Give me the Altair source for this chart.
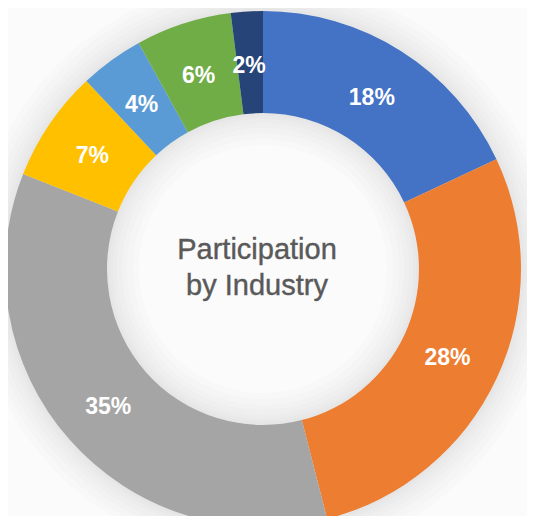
import altair as alt
import pandas as pd

categories = ["A", "B", "C", "D", "E", "F", "G"]
values = [18, 28, 35, 7, 4, 6, 2]
labels = ["18%", "28%", "35%", "7%", "4%", "6%", "2%"]
colors = ["#4472C4", "#ED7D31", "#A5A5A5", "#FFC000", "#5B9BD5", "#70AD47", "#264478"]
title_lines = ["Participation", "by Industry"]

df = pd.DataFrame({"cat": categories, "val": values, "label": labels, "ord": list(range(7))})
cx, cy = alt.value(255), alt.value(261)
theta_scale = alt.Scale(domain=[0, 100], range=[0, 6.28318530718])
theta = alt.Theta("val:Q", stack=True, scale=theta_scale)
order = alt.Order("ord:Q")

base = alt.Chart(df)
layers = []
# soft drop shadow around the ring: full circles drawn under the segments
shadow = alt.Chart(pd.DataFrame({"val": [100]}))
for extra in (32, 26, 20, 15, 10, 6, 3):
    layers.append(shadow.mark_arc(innerRadius=156 - extra, outerRadius=258 + extra, color="#000000", opacity=0.012)
                  .encode(theta=alt.Theta("val:Q", scale=theta_scale), x=cx, y=cy))
ring = base.mark_arc(innerRadius=156, outerRadius=258).encode(
    theta=theta, order=order, x=cx, y=cy,
    color=alt.Color("cat:N", scale=alt.Scale(domain=categories, range=colors), legend=None),
)
text = base.mark_text(radius=205, dy=2, dx=-1, color="white", font="Liberation Sans", fontSize=23, fontWeight="bold").encode(
    theta=theta, order=order, x=cx, y=cy, text="label:N",
)
title_df = pd.DataFrame({"t": title_lines, "ord": [0, 1]})
center = alt.Chart(title_df).transform_calculate(py="datum.ord * 36 + 242").mark_text(
    font="Liberation Sans", fontSize=29, color="#595959", align="center", baseline="middle",
    stroke="#595959", strokeWidth=0.4,
).encode(x=alt.value(249), y=alt.Y("py:Q", scale=None), text="t:N")

chart = alt.layer(*layers, ring, text, center).properties(
    width=519, height=508, padding=0, autosize=alt.AutoSizeParams(type="none"),
    background="#fbfbfb",
).configure_view(stroke=None)
chart.save("out.html", embed_options={"renderer": "svg", "actions": False})
